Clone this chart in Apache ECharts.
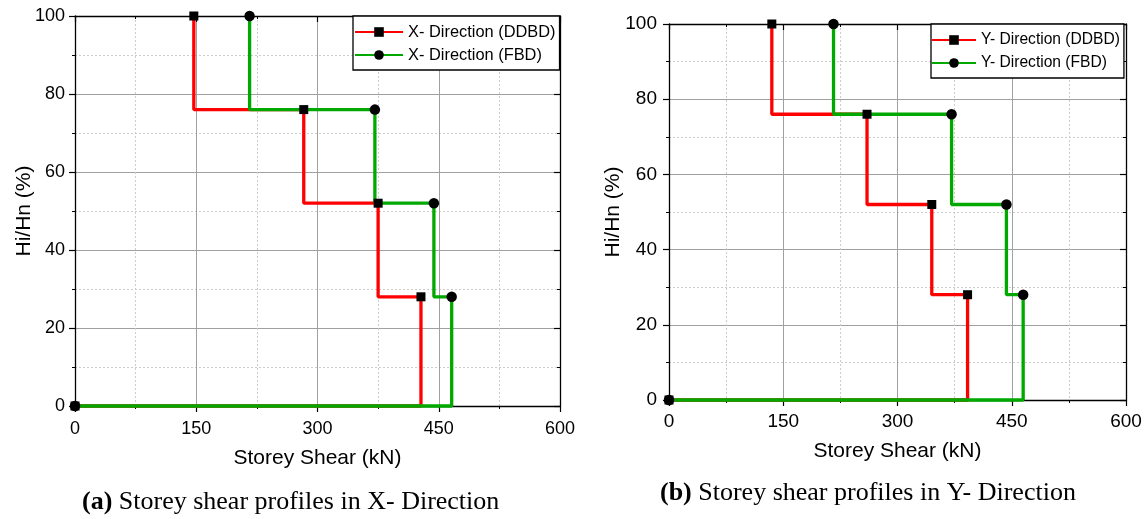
<!DOCTYPE html>
<html>
<head>
<meta charset="utf-8">
<script src="https://cdn.jsdelivr.net/npm/echarts@6/dist/echarts.min.js"></script>
<style>
  html, body { margin: 0; padding: 0; background: #fff; }
  #chart { width: 1148px; height: 519px; }
</style>
</head>
<body>
<div id="chart"></div>
<script>
// Storey height ratio Hi/Hn (%) for each storey level, from the base up
const storeyLevels = [0, 28, 52, 76, 100];

// Storey shear (kN) at each level
const shearXDDBD = [0, 428, 375, 283, 147];
const shearXFBD  = [0, 466, 444, 371, 216];
const shearYDDBD = [0, 392, 345, 260, 135];
const shearYFBD  = [0, 465, 443, 371, 216];

// Axis ticks
const shearTicks = [0, 150, 300, 450, 600];
const levelTicks = [0, 20, 40, 60, 80, 100];

const seriesNames = {
  xDDBD: 'X- Direction (DDBD)',
  xFBD: 'X- Direction (FBD)',
  yDDBD: 'Y- Direction (DDBD)',
  yFBD: 'Y- Direction (FBD)'
};

const RED = '#ff0000';
const GREEN = '#00a800';
const SANS = 'Liberation Sans, Arial, sans-serif';
const SERIF = 'Liberation Serif, Times New Roman, serif';

function pairs(shear) {
  return storeyLevels.map((h, i) => [shear[i], h]);
}

const panels = [
  { grid: { left: 75, top: 16, width: 485, height: 390 }, tickFont: 18, legendFont: 16.4,
    legend: { left: 353, top: 16, itemWidth: 48, padding: [7, 4, 6, 1] },
    yNameGap: 40, xNameGap: 42, yLabelMargin: 10, xLabelMargin: 14,
    ddbd: shearXDDBD, fbd: shearXFBD, names: [seriesNames.xDDBD, seriesNames.xFBD] },
  { grid: { left: 669, top: 24, width: 457, height: 376 }, tickFont: 19, legendFont: 15.6,
    legend: { left: 931, top: 24, itemWidth: 44, padding: [7, 4, 6, 0] },
    yNameGap: 45, xNameGap: 41, yLabelMargin: 12, xLabelMargin: 12,
    ddbd: shearYDDBD, fbd: shearYFBD, names: [seriesNames.yDDBD, seriesNames.yFBD] }
];

const grids = [], xAxes = [], yAxes = [], series = [], legends = [];

panels.forEach((p, k) => {
  grids.push(Object.assign({ containLabel: false }, p.grid));

  const xMain = 2 * k, yMain = 2 * k;
  // bottom value axis with grid lines
  xAxes.push({
    gridIndex: k, type: 'value', position: 'bottom',
    min: shearTicks[0], max: shearTicks[shearTicks.length - 1], interval: shearTicks[1] - shearTicks[0],
    name: 'Storey Shear (kN)', nameLocation: 'middle', nameGap: p.xNameGap, nameMoveOverlap: false,
    nameTextStyle: { fontFamily: SANS, fontSize: 21, color: '#000' },
    axisLine: { show: true, onZero: false, lineStyle: { color: '#000', width: 1.3 } },
    axisTick: { show: true, inside: false, length: 6, lineStyle: { color: '#000', width: 1.2 } },
    minorTick: { show: true, splitNumber: 2, length: 3, lineStyle: { color: '#000', width: 1 } },
    axisLabel: { fontFamily: SANS, fontSize: p.tickFont, color: '#000', margin: p.xLabelMargin },
    splitLine: { show: true, lineStyle: { color: '#a0a0a0', width: 1 } },
    minorSplitLine: { show: true, lineStyle: { color: '#cccccc', width: 1, type: [2, 2] } }
  });
  // top frame edge
  xAxes.push({
    gridIndex: k, type: 'value', position: 'top',
    min: shearTicks[0], max: shearTicks[shearTicks.length - 1], interval: shearTicks[1] - shearTicks[0],
    axisLine: { show: true, onZero: false, lineStyle: { color: '#000', width: 1.3 } },
    axisTick: { show: true, inside: true, length: 6, lineStyle: { color: '#000', width: 1.2 } },
    minorTick: { show: true, splitNumber: 2, length: 3, lineStyle: { color: '#000', width: 1 } },
    axisLabel: { show: false }, splitLine: { show: false }
  });
  yAxes.push({
    gridIndex: k, type: 'value', position: 'left',
    min: levelTicks[0], max: levelTicks[levelTicks.length - 1], interval: levelTicks[1] - levelTicks[0],
    name: 'Hi/Hn (%)', nameLocation: 'middle', nameGap: p.yNameGap, nameRotate: 90, nameMoveOverlap: false,
    nameTextStyle: { fontFamily: SANS, fontSize: 21, color: '#000' },
    axisLine: { show: true, onZero: false, lineStyle: { color: '#000', width: 1.3 } },
    axisTick: { show: true, inside: false, length: 6, lineStyle: { color: '#000', width: 1.2 } },
    minorTick: { show: true, splitNumber: 2, length: 3, lineStyle: { color: '#000', width: 1 } },
    axisLabel: { fontFamily: SANS, fontSize: p.tickFont, color: '#000', margin: p.yLabelMargin },
    splitLine: { show: true, lineStyle: { color: '#a0a0a0', width: 1 } },
    minorSplitLine: { show: true, lineStyle: { color: '#cccccc', width: 1, type: [2, 2] } }
  });
  // right frame edge
  yAxes.push({
    gridIndex: k, type: 'value', position: 'right',
    min: levelTicks[0], max: levelTicks[levelTicks.length - 1], interval: levelTicks[1] - levelTicks[0],
    axisLine: { show: true, onZero: false, lineStyle: { color: '#000', width: 1.3 } },
    axisTick: { show: true, inside: true, length: 6, lineStyle: { color: '#000', width: 1.2 } },
    minorTick: { show: true, splitNumber: 2, length: 3, lineStyle: { color: '#000', width: 1 } },
    axisLabel: { show: false }, splitLine: { show: false }
  });

  const common = { type: 'line', xAxisIndex: xMain, yAxisIndex: yMain, step: 'end',
    showSymbol: false, clip: false, silent: true, animation: false };
  series.push(Object.assign({}, common, {
    name: p.names[0], data: pairs(p.ddbd), symbol: 'rect', symbolSize: 9,
    itemStyle: { color: '#000', opacity: 1 }, lineStyle: { color: RED, width: 3.3 }, z: 2
  }));
  series.push(Object.assign({}, common, {
    name: p.names[1], data: pairs(p.fbd), symbol: 'circle', symbolSize: 10,
    itemStyle: { color: '#000', opacity: 1 }, lineStyle: { color: GREEN, width: 3.3 }, z: 2
  }));
  // markers on top of both profiles
  series.push({ type: 'scatter', xAxisIndex: xMain, yAxisIndex: yMain, data: pairs(p.fbd),
    symbol: 'circle', symbolSize: 10.5, itemStyle: { color: '#000', opacity: 1 }, clip: false, silent: true, z: 4 });
  series.push({ type: 'scatter', xAxisIndex: xMain, yAxisIndex: yMain, data: pairs(p.ddbd),
    symbol: 'rect', symbolSize: 9, itemStyle: { color: '#000', opacity: 1 }, clip: false, silent: true, z: 5 });

  legends.push({
    data: p.names, orient: 'vertical', left: p.legend.left, top: p.legend.top,
    itemWidth: p.legend.itemWidth, itemHeight: 12, itemGap: 5, padding: p.legend.padding,
    backgroundColor: '#fff', borderColor: '#000', borderWidth: 1.3, borderRadius: 0,
    selectedMode: false,
    textStyle: { fontFamily: SANS, fontSize: p.legendFont, color: '#000', lineHeight: 18 }
  });
});

const chart = echarts.init(document.getElementById('chart'), null, { renderer: 'canvas' });
chart.setOption({
  backgroundColor: '#fff',
  animation: false,
  grid: grids,
  xAxis: xAxes,
  yAxis: yAxes,
  legend: legends,
  series: series,
  graphic: [
    { type: 'text', left: 82, top: 489,
      style: { text: '{b|(a)} Storey shear profiles in X- Direction', font: '26px ' + SERIF, fill: '#000',
        rich: { b: { fontFamily: SERIF, fontSize: 26, fontWeight: 'bold', fill: '#000' } } } },
    { type: 'text', left: 660, top: 480,
      style: { text: '{b|(b)} Storey shear profiles in Y- Direction', font: '26px ' + SERIF, fill: '#000',
        rich: { b: { fontFamily: SERIF, fontSize: 26, fontWeight: 'bold', fill: '#000' } } } }
  ]
});
</script>
</body>
</html>
